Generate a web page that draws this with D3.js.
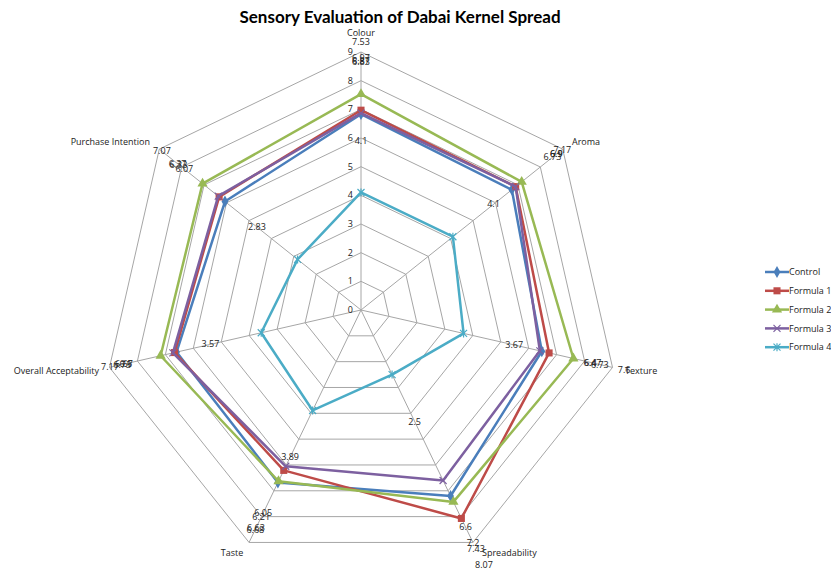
<!DOCTYPE html>
<html><head><meta charset="utf-8">
<script src="https://cdn.jsdelivr.net/npm/d3@7"></script>
<style>body{margin:0;background:#fff}svg{display:block}text{font-family:"Open Sans",Arial,sans-serif}</style>
</head><body><svg id="c" width="831" height="571"></svg>
<script>
const categories = ["Colour","Aroma","Texture","Spreadability","Taste","Overall Acceptability","Purchase Intention"];
const seriesNames = ["Control","Formula 1","Formula 2","Formula 3","Formula 4"];
const control  = [6.83, 6.73, 6.47, 7.2, 6.68, 6.6, 6.07];
const formula1 = [6.97, 6.9, 6.73, 8.07, 6.21, 6.67, 6.33];
const formula2 = [7.53, 7.17, 7.6, 7.43, 6.63, 7.17, 7.07];
const formula3 = [6.87, 6.9, 6.4, 6.6, 6.05, 6.73, 6.37];
const formula4 = [4.1, 4.1, 3.67, 2.5, 3.89, 3.57, 2.83];
const tickValues = [0,1,2,3,4,5,6,7,8,9];
const colors = ["#4A7EBB","#BE4B48","#98B954","#7D60A0","#4BACC6"];
const markers = ["diamond","square","triangle","x","star"];
const allSeries = [control, formula1, formula2, formula3, formula4];

const svg = d3.select("#c");
const cx = 361, cy = 310;
const r = d3.scaleLinear().domain([0,9]).range([0,258]);
const n = categories.length;
const ang = d3.scaleLinear().domain([0,n]).range([0, 2*Math.PI]);
const pt = (i, v) => [cx + r(v)*Math.sin(ang(i)), cy - r(v)*Math.cos(ang(i))];
const ptR = (i, rad) => [cx + rad*Math.sin(ang(i)), cy - rad*Math.cos(ang(i))];

// title
svg.append("text").attr("x",400).attr("y",23).attr("text-anchor","middle")
  .style("font-family","Lato, 'Open Sans', sans-serif").style("font-weight","bold").style("font-size","17px").text("Sensory Evaluation of Dabai Kernel Spread");

const grid = svg.append("g");
tickValues.slice(1).forEach(t => {
  grid.append("path").attr("d", d3.line()(d3.range(n+1).map(i => pt(i%n, t))))
    .attr("fill","none").attr("stroke","#a6a6a6").attr("stroke-width",1);
});
d3.range(n).forEach(i => {
  const [x,y] = pt(i, 9);
  grid.append("line").attr("x1",cx).attr("y1",cy).attr("x2",x).attr("y2",y).attr("stroke","#a6a6a6");
});
tickValues.forEach(t => {
  svg.append("text").attr("x",cx-8).attr("y",cy - r(t)).attr("dy","0.35em").attr("text-anchor","end")
    .style("font-size","9px").attr("fill","#222").text(t);
});

// category labels
const catPos = [
  {x:361,y:36,a:"middle"},{x:572,y:145,a:"start"},{x:625,y:374,a:"start"},
  {x:482,y:556,a:"start"},{x:232,y:556,a:"middle"},{x:99,y:374,a:"end"},{x:150,y:145,a:"end"}];
categories.forEach((c,i) => {
  svg.append("text").attr("x",catPos[i].x).attr("y",catPos[i].y).attr("text-anchor",catPos[i].a)
    .style("font-size","9px").attr("fill","#222").text(c);
});

function markerPath(type){
  switch(type){
    case "diamond": return d3.symbol(d3.symbolDiamond, 40)();
    case "square": return d3.symbol(d3.symbolSquare, 50)();
    case "triangle": return d3.symbol(d3.symbolTriangle, 45)();
    case "x": return "M-3.5,-3.5L3.5,3.5M-3.5,3.5L3.5,-3.5";
    case "star": return "M-3.5,-3.5L3.5,3.5M-3.5,3.5L3.5,-3.5M0,-4L0,4";
  }
}

allSeries.forEach((vals, s) => {
  const g = svg.append("g");
  const pts = vals.map((v,i) => pt(i,v));
  g.append("path").attr("d", d3.line()(pts.concat([pts[0]])))
    .attr("fill","none").attr("stroke",colors[s]).attr("stroke-width",2.5).attr("stroke-linejoin","round");
  pts.forEach(p => {
    const m = g.append("path").attr("d", markerPath(markers[s])).attr("transform",`translate(${p[0]},${p[1]})`);
    if (markers[s]==="x"||markers[s]==="star") m.attr("fill","none").attr("stroke",colors[s]).attr("stroke-width",1.2);
    else m.attr("fill",colors[s]);
  });
});
// data labels
allSeries.forEach((vals, s) => {
  vals.forEach((v,i) => {
    const [x,y] = ptR(i, r(v)+52);
    svg.append("text").attr("x",x).attr("y",y).attr("dy","0.35em").attr("text-anchor","middle")
      .style("font-size","9px").attr("fill","#222").text(v);
  });
});

// legend
const lg = svg.append("g");
seriesNames.forEach((nm, s) => {
  const y = 272 + s*18.8;
  lg.append("line").attr("x1",765).attr("x2",789).attr("y1",y).attr("y2",y).attr("stroke",colors[s]).attr("stroke-width",2.5);
  const m = lg.append("path").attr("d", markerPath(markers[s])).attr("transform",`translate(777,${y})`);
  if (markers[s]==="x"||markers[s]==="star") m.attr("fill","none").attr("stroke",colors[s]).attr("stroke-width",1.2);
  else m.attr("fill",colors[s]);
  lg.append("text").attr("x",789).attr("y",y).attr("dy","0.35em").style("font-size","9px").attr("fill","#222").text(nm);
});
</script></body></html>
